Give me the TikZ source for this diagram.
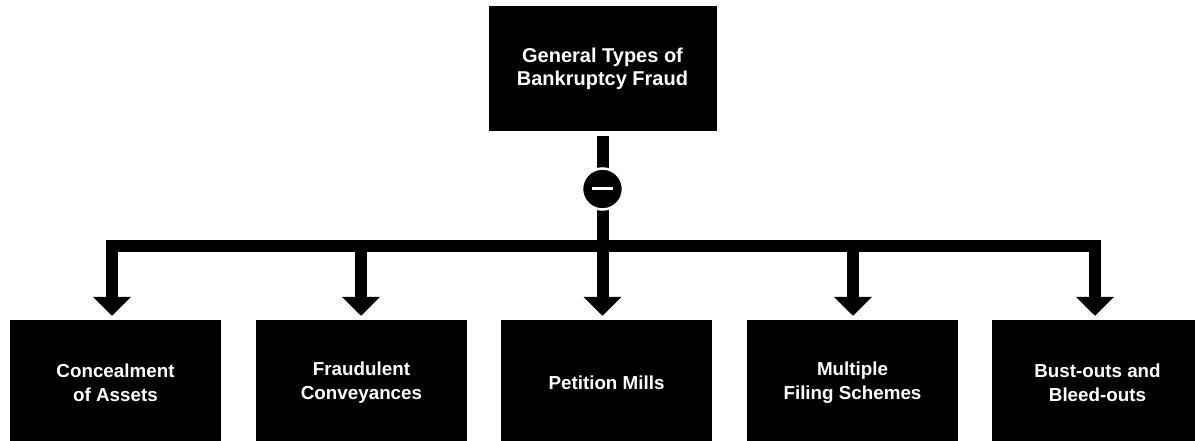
\documentclass[tikz,border=0pt]{standalone}
\usepackage{fontspec}
\setmainfont{Liberation Sans}
\usetikzlibrary{arrows.meta,calc}
\tikzset{
  leaf/.style={fill=black, draw=none, minimum width=211pt, minimum height=125pt, inner sep=0pt,
    text=white, align=center, font=\bfseries\fontsize{18.8}{24}\selectfont},
  rootbox/.style={fill=black, draw=none, minimum width=228pt, minimum height=125pt, inner sep=0pt,
    text=white, align=center, font=\bfseries\fontsize{20}{23}\selectfont},
  conn/.style={line width=12pt, line join=miter, black},
  arr/.style={conn, -{Triangle[width=37pt,length=19pt]}, shorten >=4pt},
  toggle/.style={circle, fill=black, draw=white, line width=2.5pt, minimum size=41pt, inner sep=0pt}
}
\begin{document}
\begin{tikzpicture}[x=1pt,y=-1pt]
\useasboundingbox (0,0) rectangle (1195,441);
\clip (0,0) rectangle (1195,441);
\node[rootbox] (top) at (602.5,68.5) {General Types of\\Bankruptcy Fraud};
\node[leaf] (b1) at (115.5,382.5) {Concealment\\of Assets};
\node[leaf] (b2) at (361.5,382.5) {Fraudulent\\Conveyances};
\node[leaf] (b3) at (606.5,382.5) {Petition Mills};
\node[leaf] (b4) at (852.5,382.5) {Multiple\\Filing Schemes};
\node[leaf] (b5) at (1097.5,382.5) {Bust-outs and\\Bleed-outs};
\coordinate (j) at (602.5,245.5);
\draw[conn, shorten <=5pt] (top.south) -- (j);
\draw[arr] (j) -| ($(b1.north)+(-3.5,0)$);
\draw[arr] (j) -| ($(b2.north)+(-0.5,0)$);
\draw[arr] (j) -| ($(b3.north)+(-4,0)$);
\draw[arr] (j) -| ($(b4.north)+(0.5,0)$);
\draw[arr] (j) -| ($(b5.north)+(-2.5,0)$);
\node[toggle] (c) at (602.5,189) {};
\draw[white, line width=3pt] ($(c.center)+(-10.5,0)$) -- ($(c.center)+(10.5,0)$);
\end{tikzpicture}
\end{document}
